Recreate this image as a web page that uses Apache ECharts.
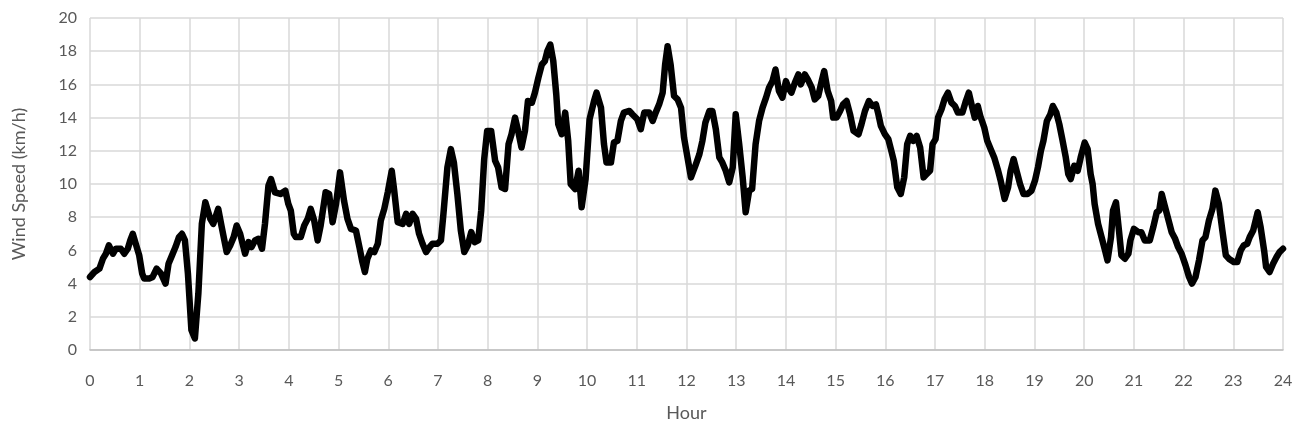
<!DOCTYPE html>
<html>
<head>
<meta charset="utf-8">
<style>
  html, body { margin: 0; padding: 0; background: #fff; }
  #chart { width: 1311px; height: 437px; }
</style>
<script src="https://cdn.jsdelivr.net/npm/echarts@6/dist/echarts.min.js"></script>
</head>
<body>
<div id="chart"></div>
<script>
// hours of day
const hours = [
  0.00, 0.09, 0.19, 0.26, 0.32, 0.38, 0.46, 0.52, 0.62, 0.69, 0.76, 0.81, 0.86, 0.93, 0.99,
  1.05, 1.09, 1.19, 1.26, 1.34, 1.43, 1.52, 1.58, 1.65, 1.72, 1.79, 1.85, 1.91, 1.97,
  2.04, 2.11, 2.18, 2.25, 2.32, 2.42, 2.48, 2.58, 2.65, 2.75, 2.82, 2.89, 2.95,
  3.02, 3.12, 3.19, 3.25, 3.32, 3.39, 3.46, 3.52, 3.59, 3.64, 3.72, 3.83, 3.93, 3.99,
  4.04, 4.10, 4.14, 4.24, 4.31, 4.38, 4.44, 4.51, 4.58, 4.64, 4.74, 4.81, 4.88, 4.95,
  5.03, 5.11, 5.18, 5.25, 5.35, 5.42, 5.48, 5.53, 5.58, 5.65, 5.72, 5.79, 5.85, 5.92, 5.99,
  6.07, 6.12, 6.19, 6.29, 6.36, 6.42, 6.49, 6.56, 6.62, 6.69, 6.76, 6.83, 6.89, 6.99,
  7.06, 7.11, 7.19, 7.26, 7.32, 7.39, 7.46, 7.53, 7.60, 7.67, 7.74, 7.81, 7.87, 7.93, 7.99,
  8.07, 8.15, 8.21, 8.28, 8.35, 8.42, 8.48, 8.55, 8.62, 8.68, 8.75, 8.81, 8.89, 8.95,
  9.02, 9.09, 9.15, 9.20, 9.26, 9.32, 9.38, 9.42, 9.49, 9.56, 9.62, 9.67, 9.76, 9.83, 9.89, 9.97,
  10.05, 10.14, 10.19, 10.28, 10.34, 10.39, 10.48, 10.54, 10.61, 10.68, 10.74, 10.85, 10.91,
  11.01, 11.08, 11.15, 11.25, 11.32, 11.38, 11.45, 11.52, 11.57, 11.62, 11.68, 11.75, 11.82, 11.89, 11.95,
  12.02, 12.09, 12.19, 12.26, 12.32, 12.38, 12.46, 12.52, 12.59, 12.66, 12.72, 12.79, 12.86, 12.93, 12.99,
  13.06, 13.13, 13.19, 13.26, 13.32, 13.39, 13.46, 13.53, 13.60, 13.66, 13.73, 13.79, 13.86, 13.93,
  14.00, 14.05, 14.11, 14.18, 14.25, 14.30, 14.38, 14.44, 14.52, 14.58, 14.65, 14.72, 14.77, 14.84, 14.91, 14.95,
  15.02, 15.09, 15.15, 15.22, 15.29, 15.36, 15.46, 15.52, 15.59, 15.67, 15.74, 15.81, 15.86, 15.91, 15.99,
  16.06, 16.12, 16.17, 16.24, 16.31, 16.38, 16.44, 16.50, 16.56, 16.63, 16.70, 16.77, 16.83, 16.90, 16.95,
  17.01, 17.06, 17.13, 17.19, 17.26, 17.33, 17.40, 17.46, 17.55, 17.62, 17.68, 17.75, 17.80, 17.86, 17.91, 17.99,
  18.05, 18.12, 18.19, 18.26, 18.32, 18.40, 18.47, 18.52, 18.58, 18.64, 18.71, 18.78, 18.86, 18.94,
  19.01, 19.07, 19.13, 19.18, 19.25, 19.32, 19.37, 19.44, 19.50, 19.56, 19.63, 19.68, 19.73, 19.80, 19.87, 19.93,
  20.01, 20.07, 20.13, 20.17, 20.21, 20.28, 20.35, 20.42, 20.47, 20.54, 20.58, 20.64, 20.70, 20.75, 20.82, 20.89, 20.93,
  21.00, 21.09, 21.15, 21.22, 21.32, 21.39, 21.46, 21.51, 21.56, 21.62, 21.69, 21.76, 21.83, 21.89, 21.96,
  22.04, 22.11, 22.17, 22.24, 22.31, 22.38, 22.44, 22.51, 22.58, 22.64, 22.71, 22.78, 22.85, 22.91,
  23.01, 23.08, 23.15, 23.21, 23.28, 23.33, 23.40, 23.49, 23.55, 23.62, 23.66, 23.73, 23.80, 23.87, 23.93, 24.00
];

// wind speed (km/h) at each of the hours above
const windSpeed = [
  4.4, 4.7, 4.9, 5.5, 5.8, 6.3, 5.8, 6.1, 6.1, 5.8, 6.1, 6.6, 7.0, 6.3, 5.7,
  4.6, 4.3, 4.3, 4.4, 4.9, 4.6, 4.0, 5.2, 5.7, 6.2, 6.8, 7.0, 6.6, 4.6,
  1.2, 0.7, 3.4, 7.6, 8.9, 7.9, 7.6, 8.5, 7.4, 5.9, 6.3, 6.8, 7.5,
  7.0, 5.8, 6.5, 6.2, 6.6, 6.7, 6.1, 7.6, 9.9, 10.3, 9.5, 9.4, 9.6, 8.8,
  8.4, 7.0, 6.8, 6.8, 7.5, 7.9, 8.5, 7.8, 6.6, 7.5, 9.5, 9.4, 7.7, 8.8,
  10.7, 9.0, 7.9, 7.3, 7.2, 6.2, 5.3, 4.7, 5.5, 6.0, 5.9, 6.4, 7.8, 8.5, 9.5,
  10.8, 9.6, 7.7, 7.6, 8.2, 7.6, 8.2, 7.9, 7.0, 6.4, 5.9, 6.2, 6.4, 6.4,
  6.6, 8.2, 11.0, 12.1, 11.3, 9.4, 7.2, 5.9, 6.3, 7.1, 6.5, 6.6, 8.4, 11.5, 13.2,
  13.2, 11.4, 11.0, 9.8, 9.7, 12.4, 13.0, 14.0, 13.1, 12.2, 13.2, 15.0, 14.9, 15.5,
  16.4, 17.2, 17.4, 18.0, 18.4, 17.4, 15.4, 13.6, 13.0, 14.3, 12.6, 10.0, 9.7, 10.8, 8.6, 10.3,
  13.9, 15.0, 15.5, 14.6, 12.4, 11.3, 11.3, 12.5, 12.6, 13.8, 14.3, 14.4, 14.2,
  13.9, 13.3, 14.3, 14.3, 13.8, 14.3, 14.8, 15.5, 17.2, 18.3, 17.2, 15.3, 15.1, 14.6, 12.8,
  11.6, 10.4, 11.2, 11.8, 12.6, 13.7, 14.4, 14.4, 13.3, 11.6, 11.3, 10.8, 10.1, 11.0, 14.2,
  12.4, 10.4, 8.3, 9.6, 9.7, 12.4, 13.8, 14.6, 15.2, 15.8, 16.2, 16.9, 15.6, 15.2,
  16.2, 15.8, 15.5, 16.1, 16.6, 16.0, 16.6, 16.3, 15.8, 15.1, 15.3, 16.2, 16.8, 15.6, 15.0, 14.0,
  14.0, 14.4, 14.8, 15.0, 14.2, 13.2, 13.0, 13.6, 14.4, 15.0, 14.7, 14.8, 14.2, 13.5, 13.0,
  12.7, 12.0, 11.4, 9.8, 9.4, 10.4, 12.4, 12.9, 12.6, 12.9, 12.2, 10.4, 10.6, 10.8, 12.4,
  12.7, 14.0, 14.5, 15.1, 15.5, 14.9, 14.7, 14.3, 14.3, 15.0, 15.5, 14.6, 14.0, 14.7, 14.1, 13.4,
  12.6, 12.1, 11.6, 10.9, 10.2, 9.1, 9.8, 10.8, 11.5, 10.8, 10.0, 9.4, 9.4, 9.6,
  10.2, 11.0, 12.0, 12.6, 13.8, 14.2, 14.7, 14.3, 13.6, 12.7, 11.6, 10.6, 10.3, 11.1, 10.8, 11.6,
  12.5, 12.1, 10.6, 10.0, 8.8, 7.6, 6.8, 6.0, 5.4, 6.8, 8.4, 8.9, 7.2, 5.7, 5.5, 5.8, 6.6,
  7.3, 7.1, 7.1, 6.6, 6.6, 7.4, 8.3, 8.4, 9.4, 8.7, 7.9, 7.1, 6.7, 6.2, 5.8,
  5.1, 4.4, 4.0, 4.4, 5.4, 6.6, 6.8, 7.8, 8.5, 9.6, 8.8, 7.2, 5.7, 5.5,
  5.3, 5.3, 6.0, 6.3, 6.4, 6.8, 7.2, 8.3, 7.4, 6.0, 5.0, 4.7, 5.2, 5.6, 5.9, 6.1
];

const yTicks = [0, 2, 4, 6, 8, 10, 12, 14, 16, 18, 20];
const xTicks = [0, 1, 2, 3, 4, 5, 6, 7, 8, 9, 10, 11, 12, 13, 14, 15, 16, 17, 18, 19, 20, 21, 22, 23, 24];

const textColor = '#595959';
const gridColor = '#d9d9d9';
const fontFamily = 'Lato, "Open Sans", sans-serif';

const chart = echarts.init(document.getElementById('chart'), null, { renderer: 'canvas' });

chart.setOption({
  animation: false,
  backgroundColor: '#ffffff',
  textStyle: { fontFamily: fontFamily },
  grid: {
    left: 90,
    right: 28,
    top: 18,
    bottom: 87
  },
  xAxis: {
    type: 'value',
    min: xTicks[0],
    max: xTicks[xTicks.length - 1],
    interval: 1,
    name: 'Hour',
    nameLocation: 'middle',
    nameGap: 54,
    nameTextStyle: { color: textColor, fontSize: 18, fontFamily: fontFamily },
    axisLine: { show: true, lineStyle: { color: '#bfbfbf', width: 1.5 } },
    axisTick: { show: false },
    axisLabel: { color: textColor, fontSize: 16, margin: 23, fontFamily: fontFamily },
    splitLine: { show: true, lineStyle: { color: gridColor, width: 1.5 } }
  },
  yAxis: {
    type: 'value',
    min: yTicks[0],
    max: yTicks[yTicks.length - 1],
    interval: 2,
    name: 'Wind Speed (km/h)',
    nameLocation: 'middle',
    nameGap: 62,
    nameTextStyle: { color: textColor, fontSize: 18, fontFamily: fontFamily },
    axisLine: { show: false },
    axisTick: { show: false },
    axisLabel: { color: textColor, fontSize: 16, margin: 13, fontFamily: fontFamily },
    splitLine: { show: true, lineStyle: { color: gridColor, width: 1.5 } }
  },
  series: [{
    name: 'Wind Speed',
    type: 'line',
    data: hours.map((h, i) => [h, windSpeed[i]]),
    showSymbol: false,
    smooth: false,
    lineStyle: {
      color: '#000000',
      width: 6.5,
      cap: 'round',
      join: 'round'
    }
  }]
});
</script>
</body>
</html>
